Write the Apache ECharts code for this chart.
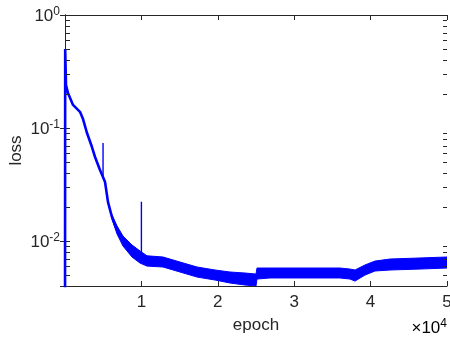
<!DOCTYPE html>
<html><head><meta charset="utf-8">
<script src="https://cdn.jsdelivr.net/npm/echarts@6/dist/echarts.min.js"></script>
<style>html,body{margin:0;padding:0;background:#fff}#c{width:450px;height:343px}</style>
</head><body><div id="c"></div>
<script>
// ---- data ----
const earlyEpochs = [0, 25, 130, 390, 1050, 1960, 2360, 2880, 3530, 3930, 4580, 4970, 5240, 5630, 6150, 6810];
const earlyLoss   = [0.001, 0.5, 0.24, 0.204, 0.160, 0.139, 0.120, 0.0903, 0.0679, 0.0554, 0.0425, 0.0368, 0.0333, 0.0221, 0.0163, 0.0125];

const bandEpochs = [6150, 6810, 7590, 8770, 9820, 10730, 12830, 15050, 17280, 19630, 21600, 23560, 25000, 25130, 26830, 30760, 36000, 37300, 37960, 39270, 40580, 42540, 46470, 50000];
const bandUpper  = [0.0170, 0.0136, 0.01107, 0.00922, 0.00816, 0.0074, 0.00722, 0.00652, 0.00589, 0.00554, 0.00532, 0.00521, 0.00510, 0.00577, 0.00577, 0.00577, 0.00577, 0.00565, 0.00554, 0.00614, 0.00665, 0.00693, 0.00708, 0.00722];
const bandLower  = [0.0156, 0.01154, 0.00903, 0.00722, 0.00638, 0.0060, 0.00589, 0.00532, 0.00480, 0.00452, 0.00425, 0.00408, 0.00400, 0.00461, 0.00471, 0.00471, 0.00471, 0.00461, 0.00442, 0.00500, 0.00543, 0.00554, 0.00565, 0.00577];

const spikeEpochs = [4980, 10000, 12400];
const spikeBase   = [0.036, 0.0066, 0.0066];
const spikePeak   = [0.0736, 0.0223, 0.0071];

const xTickLabels = ['', '1', '2', '3', '4', '5'];
const minorTicks = [0.005, 0.006, 0.007, 0.008, 0.009, 0.02, 0.03, 0.04, 0.05, 0.06, 0.07, 0.08, 0.09, 0.2, 0.3, 0.4, 0.5, 0.6, 0.7, 0.8, 0.9];
const X_MIN = 0, X_MAX = 50000, Y_MIN = 0.004, Y_MAX = 1;

// ---- styling ----
const FONT = '"Liberation Sans", Arial, Helvetica, sans-serif';
const AX = '#262626';
const BLUE = '#0000ff';
const TICK_FS = 17, SUP_FS = 12, LABEL_FS = 17;

const chart = echarts.init(document.getElementById('c'), null, {renderer: 'canvas'});

const supRich = {
  b: {fontSize: TICK_FS, fontFamily: FONT, color: AX, lineHeight: 19, verticalAlign: 'bottom'},
  s: {fontSize: SUP_FS, fontFamily: FONT, color: AX, lineHeight: 19, verticalAlign: 'top'}
};

const axisCommon = {
  axisLine: {show: true, lineStyle: {color: AX, width: 1}},
  axisTick: {show: true, inside: true, length: 5, lineStyle: {color: AX, width: 1}},
  splitLine: {show: false},
  minorTick: {show: false}
};

const series = [];
series.push({
  type: 'custom', clip: true, silent: true, z: 2,
  data: [[bandEpochs[0], bandUpper[0]]],
  renderItem: (params, api) => {
    const pts = [];
    bandEpochs.forEach((e, i) => pts.push(api.coord([e, bandUpper[i]])));
    for (let i = bandEpochs.length - 1; i >= 0; i--) pts.push(api.coord([bandEpochs[i], bandLower[i]]));
    return {type: 'polygon', shape: {points: pts}, style: {fill: BLUE, stroke: BLUE, lineWidth: 1}};
  }
});
series.push({
  type: 'line', clip: true, silent: true, symbol: 'none', z: 3,
  data: earlyEpochs.map((e, i) => [e, earlyLoss[i]]),
  lineStyle: {color: BLUE, width: 2.6}
});
spikeEpochs.forEach((e, i) => {
  series.push({
    type: 'line', clip: true, silent: true, symbol: 'none', z: 3,
    data: [[e, spikeBase[i]], [e, spikePeak[i]]],
    lineStyle: {color: BLUE, width: 1.4}
  });
});

chart.setOption({
  animation: false,
  backgroundColor: '#fff',
  grid: {left: 65, right: 3, top: 15, bottom: 57, containLabel: false, outerBoundsMode: 'none'},
  xAxis: [
    Object.assign({}, axisCommon, {
      type: 'value', min: X_MIN, max: X_MAX, interval: 10000, position: 'bottom',
      axisLabel: {formatter: (v) => xTickLabels[Math.round(v / 10000)] || '', color: AX, fontSize: TICK_FS, fontFamily: FONT, margin: 8},
      name: 'epoch', nameLocation: 'middle', nameGap: 31, nameMoveOverlap: false,
      nameTextStyle: {color: AX, fontSize: LABEL_FS, fontFamily: FONT}
    }),
    Object.assign({}, axisCommon, {
      type: 'value', min: X_MIN, max: X_MAX, interval: 10000, position: 'top',
      axisLabel: {show: false}
    })
  ],
  yAxis: [
    Object.assign({}, axisCommon, {
      type: 'log', logBase: 10, min: Y_MIN, max: Y_MAX, position: 'left',
      axisLabel: {
        formatter: (v) => {
          const e = Math.log10(v), r = Math.round(e);
          if (Math.abs(e - r) > 1e-6) return '';
          return '{b|10}{s|' + r + '}';
        },
        rich: supRich, margin: 5
      },
      name: 'loss', nameLocation: 'middle', nameGap: 40, nameRotate: 90, nameMoveOverlap: false,
      nameTextStyle: {color: AX, fontSize: LABEL_FS, fontFamily: FONT}
    }),
    Object.assign({}, axisCommon, {
      type: 'log', logBase: 10, min: Y_MIN, max: Y_MAX, position: 'right',
      axisLabel: {show: false}
    })
  ],
  series: series
});

// minor log ticks (2..9 x decade) on both vertical sides, positioned through the chart's scales
const graphics = [{
  type: 'text', right: 3, top: 318, z: 100,
  style: {text: '{b|×10}{s|4}', rich: supRich}
}];
minorTicks.forEach((v) => {
  const pl = chart.convertToPixel({xAxisIndex: 0, yAxisIndex: 0}, [X_MIN, v]);
  const pr = chart.convertToPixel({xAxisIndex: 0, yAxisIndex: 0}, [X_MAX, v]);
  const y = Math.round(pl[1]);
  graphics.push({type: 'rect', z: 100, silent: true, shape: {x: Math.round(pl[0]), y: y, width: 5, height: 1}, style: {fill: AX}});
  graphics.push({type: 'rect', z: 100, silent: true, shape: {x: Math.round(pr[0]) - 4, y: y, width: 4, height: 1}, style: {fill: AX}});
});
chart.setOption({graphic: graphics});
</script></body></html>
